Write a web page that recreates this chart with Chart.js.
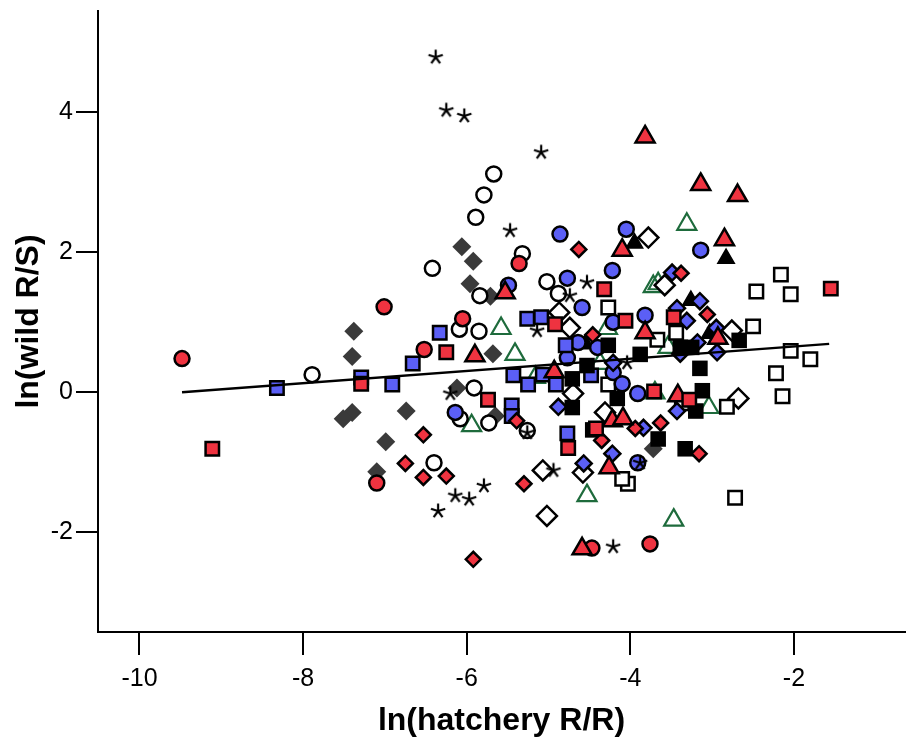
<!DOCTYPE html>
<html>
<head>
<meta charset="utf-8">
<script src="https://cdn.jsdelivr.net/npm/chart.js@4/dist/chart.umd.min.js"></script>
<style>
  html, body { margin: 0; padding: 0; background: #fff; }
  #wrap { width: 906px; height: 740px; }
</style>
</head>
<body>
<div id="wrap"><canvas id="chart" width="906" height="740"></canvas></div>
<script>
// tick labels
const xTicks = [-10, -8, -6, -4, -2];
const yTicks = [-2, 0, 2, 4];

// [ln(hatchery R/R), ln(wild R/S)] per group
const stars = [[-6.38,4.79],[-6.25,4.03],[-6.03,3.95],[-5.09,3.43],[-5.47,2.31],[-4.53,1.57],[-4.74,1.38],
  [-5.14,0.88],[-4.04,0.42],[-6.20,-0.02],[-6.35,-1.70],[-6.14,-1.48],[-5.97,-1.53],[-5.79,-1.34],
  [-4.21,-2.21],[-4.94,-1.12],[-5.26,-0.58],[-3.88,-1.01]];
const openCircles = [[-5.67,3.12],[-5.79,2.82],[-5.89,2.50],[-5.32,1.98],[-7.89,0.25],[-6.42,1.77],[-5.02,1.58],
  [-4.88,1.41],[-5.84,1.38],[-6.09,0.90],[-5.85,0.87],[-5.91,0.06],[-6.08,-0.38],[-5.73,-0.44],[-5.26,-0.55],[-6.40,-1.01]];
const redCircles = [[-9.48,0.48],[-7.01,1.22],[-6.52,0.61],[-6.05,1.05],[-5.36,1.84],[-7.10,-1.30],[-4.47,-2.23],[-3.76,-2.17]];
const blueCircles = [[-4.86,2.26],[-4.05,2.33],[-3.14,2.03],[-4.22,1.74],[-4.77,1.63],[-5.49,1.53],[-4.59,1.21],
  [-3.82,1.10],[-4.21,1.00],[-4.64,0.71],[-4.40,0.64],[-4.77,0.49],[-4.21,0.28],[-4.10,0.12],[-3.91,-0.02],
  [-6.14,-0.29],[-3.91,-1.01]];
const darkDiamonds = [[-6.06,2.08],[-7.38,0.87],[-7.40,0.51],[-7.40,-0.29],[-7.51,-0.38],[-6.74,-0.27],[-5.92,1.87],
  [-5.96,1.55],[-5.71,1.37],[-5.68,0.55],[-6.12,0.06],[-5.65,-0.34],[-6.99,-0.71],[-7.10,-1.14],[-3.72,-0.81]];
const redDiamonds = [[-4.63,2.04],[-4.46,0.82],[-5.39,-0.41],[-3.38,1.70],[-3.06,1.11],[-3.63,-0.44],[-3.16,-0.88],
  [-3.94,-0.52],[-6.53,-0.61],[-6.75,-1.02],[-6.53,-1.22],[-6.25,-1.20],[-5.30,-1.31],[-5.92,-2.39],[-4.35,-0.69]];
const blueDiamonds = [[-3.49,1.71],[-3.15,1.30],[-3.31,1.02],[-2.95,0.92],[-3.43,1.20],[-3.18,0.71],[-2.94,0.57],
  [-3.84,-0.51],[-3.43,-0.27],[-3.39,0.55],[-4.88,-0.21],[-4.22,-0.88],[-4.57,-1.02],[-4.21,0.42]];
const openDiamonds = [[-3.78,2.21],[-3.58,1.53],[-2.76,0.88],[-2.68,-0.09],[-4.87,1.14],[-4.74,0.92],[-4.70,-0.02],
  [-4.31,-0.29],[-5.07,-1.12],[-4.58,-1.15],[-5.02,-1.77]];
const blueSquares = [[-8.32,0.06],[-7.29,0.21],[-6.91,0.11],[-6.66,0.41],[-6.33,0.85],[-5.26,1.05],[-5.09,1.07],
  [-4.79,0.67],[-5.43,0.24],[-5.25,0.11],[-5.07,0.25],[-4.91,0.11],[-4.48,0.24],[-5.45,-0.19],[-5.45,-0.34],[-4.77,-0.59]];
const redSquares = [[-1.55,1.48],[-4.06,1.02],[-3.47,1.07],[-7.29,0.12],[-9.11,-0.81],[-6.25,0.57],[-4.92,0.97],
  [-4.32,1.47],[-5.74,-0.11],[-3.71,0.01],[-3.28,-0.11],[-4.76,-0.80],[-4.42,-0.52]];
const openSquares = [[-2.16,1.68],[-2.46,1.44],[-2.04,1.40],[-2.50,0.94],[-2.04,0.59],[-1.80,0.47],[-2.22,0.27],
  [-2.14,-0.06],[-2.82,-0.21],[-3.67,0.75],[-3.44,0.85],[-3.37,-0.16],[-2.72,-1.51],[-4.03,-1.31],[-4.10,-1.24],
  [-4.27,1.21],[-4.27,0.11]];
const blackSquares = [[-4.27,0.67],[-3.88,0.54],[-4.71,0.19],[-4.53,0.38],[-4.71,-0.22],[-4.16,-0.09],[-3.39,0.64],
  [-3.15,0.34],[-3.12,0.02],[-3.20,-0.27],[-2.67,0.74],[-3.66,-0.67],[-3.33,-0.81],[-3.25,0.64],[-4.46,-0.54]];
const redTriangles = [[-3.82,3.65],[-3.14,2.97],[-2.69,2.81],[-2.85,2.18],[-4.10,2.03],[-5.53,1.42],[-5.90,0.52],
  [-3.82,0.85],[-4.93,0.29],[-4.22,-0.41],[-4.09,-0.38],[-2.93,0.77],[-3.42,-0.05],[-4.59,-2.24],[-4.26,-1.08]];
const blackTriangles = [[-3.95,2.13],[-2.83,1.91],[-3.26,1.31],[-4.55,0.69],[-3.03,0.84]];
const greenTriangles = [[-3.31,2.40],[-3.72,1.51],[-3.66,1.55],[-5.58,0.91],[-5.41,0.54],[-4.28,0.91],[-4.37,0.41],
  [-5.16,0.21],[-5.94,-0.48],[-4.53,-1.48],[-3.47,-1.83],[-3.04,-0.22],[-3.54,0.64],[-3.70,-0.01]];
const fitLine = [[-9.48,0.00],[-1.57,0.69]];

const RED = '#ef3340';
const BLUE = '#5b5ff6';
const DARK = '#3a3a3a';
const GREEN = '#1e6b3c';

// five-armed asterisk like the "*" glyph
function asterisk() {
  const c = document.createElement('canvas');
  c.width = 18; c.height = 18;
  const g = c.getContext('2d');
  g.strokeStyle = '#000';
  g.lineWidth = 2.2;
  for (let i = 0; i < 5; i++) {
    const a = -Math.PI / 2 + i * 2 * Math.PI / 5;
    g.beginPath();
    g.moveTo(9, 9);
    g.lineTo(9 + 7.5 * Math.cos(a), 9 + 7.5 * Math.sin(a));
    g.stroke();
  }
  return c;
}

const pts = arr => arr.map(([x, y]) => ({ x, y }));

function series(label, data, style, r, bg, border, bw) {
  return {
    label, data: pts(data),
    pointStyle: style, pointRadius: r, pointHoverRadius: r,
    backgroundColor: bg, borderColor: border,
    borderWidth: bw, pointBorderWidth: bw,
  };
}

const tickFont = { family: "'Liberation Sans', Arial, sans-serif", size: 25 };
const titleFont = { family: "'Liberation Sans', Arial, sans-serif", size: 32, weight: 'bold' };

// first dataset in the list is drawn on top
const datasets = [
  { type: 'line', label: 'fit', data: pts(fitLine), showLine: true, pointRadius: 0,
    borderColor: '#000', borderWidth: 2.5, fill: false },
  series('stars', stars, asterisk(), 8, '#000', '#000', 0),
  series('red squares', redSquares, 'rect', 9.5, RED, '#000', 2.5),
  series('red triangles', redTriangles, 'triangle', 11, RED, '#000', 2.5),
  series('red diamonds', redDiamonds, 'rectRot', 7.5, RED, '#000', 2.5),
  series('red circles', redCircles, 'circle', 7.5, RED, '#000', 2.5),
  series('black squares', blackSquares, 'rect', 11, '#000', '#000', 0),
  series('blue diamonds', blueDiamonds, 'rectRot', 8, BLUE, '#000', 2.5),
  series('blue squares', blueSquares, 'rect', 9.5, BLUE, '#000', 2.5),
  series('blue circles', blueCircles, 'circle', 7.5, BLUE, '#000', 2.5),
  series('open squares', openSquares, 'rect', 9.5, '#fff', '#000', 2.5),
  series('open diamonds', openDiamonds, 'rectRot', 10, '#fff', '#000', 2.5),
  series('open circles', openCircles, 'circle', 7.5, '#fff', '#000', 2.5),
  series('green triangles', greenTriangles, 'triangle', 11, 'rgba(255,255,255,0)', GREEN, 2.2),
  series('black triangles', blackTriangles, 'triangle', 9.5, '#000', '#000', 1.5),
  series('dark diamonds', darkDiamonds, 'rectRot', 9.5, DARK, DARK, 0),
];

new Chart(document.getElementById('chart'), {
  type: 'scatter',
  data: { datasets },
  options: {
    responsive: false,
    animation: false,
    layout: { autoPadding: false, padding: { top: 11, right: 1, left: 0, bottom: 0 } },
    plugins: { legend: { display: false }, tooltip: { enabled: false } },
    scales: {
      x: {
        type: 'linear', min: -10.507, max: -0.643,
        afterBuildTicks: s => { s.ticks = xTicks.map(v => ({ value: v })); },
        afterFit: s => { s.height = 108; s.paddingLeft = 0; s.paddingRight = 0; },
        grid: { drawOnChartArea: false, drawTicks: true, tickLength: 23, color: '#000', lineWidth: 2 },
        border: { display: true, color: '#000', width: 2 },
        ticks: { color: '#000', font: tickFont, padding: 9, maxRotation: 0 },
        title: { display: true, text: 'ln(hatchery R/R)', color: '#000', font: titleFont, padding: { top: 0, bottom: 0 } },
      },
      y: {
        type: 'linear', min: -3.43, max: 5.45,
        afterBuildTicks: s => { s.ticks = yTicks.map(v => ({ value: v })); },
        afterFit: s => { s.width = 98; s.paddingTop = 0; s.paddingBottom = 0; },
        grid: { drawOnChartArea: false, drawTicks: true, tickLength: 22, color: '#000', lineWidth: 2 },
        border: { display: true, color: '#000', width: 2 },
        ticks: { color: '#000', font: tickFont, padding: 3 },
        title: { display: true, text: 'ln(wild R/S)', color: '#000', font: titleFont, padding: { top: 10, bottom: 0 } },
      },
    },
  },
});
</script>
</body>
</html>
